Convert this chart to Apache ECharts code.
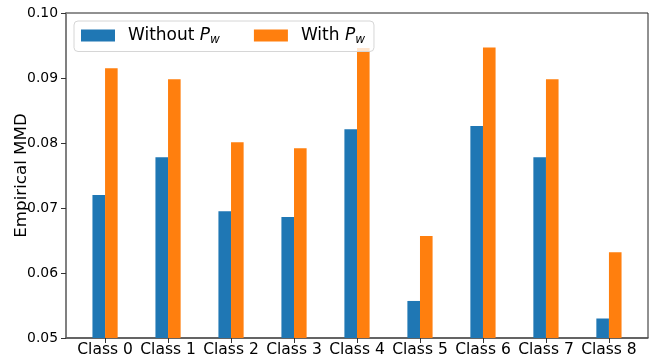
<!DOCTYPE html>
<html>
<head>
<meta charset="utf-8">
<script src="https://cdn.jsdelivr.net/npm/echarts@6/dist/echarts.min.js"></script>
<style>
html,body{margin:0;padding:0;background:#fff;}
#chart{width:654px;height:358px;}
</style>
</head>
<body>
<div id="chart"></div>
<script>
const categories = ['Class 0','Class 1','Class 2','Class 3','Class 4','Class 5','Class 6','Class 7','Class 8'];
const withoutPw = [0.0720, 0.0778, 0.0695, 0.0686, 0.0821, 0.0557, 0.0826, 0.0778, 0.0530];
const withPw    = [0.0915, 0.0898, 0.0801, 0.0792, 0.0946, 0.0657, 0.0947, 0.0898, 0.0632];
const seriesNames = ['Without', 'With'];
const yTicks = [0.05, 0.06, 0.07, 0.08, 0.09, 0.10];

const FONT = 'DejaVu Sans';
const BAR_W = 0.2;

function makeRender(offset){
  return function(params, api){
    const x = api.value(0) + offset;
    const y = api.value(1);
    const top = api.coord([x - BAR_W/2, y]);
    const bot = api.coord([x + BAR_W/2, 0.05]);
    return {
      type: 'rect',
      shape: {x: top[0], y: top[1], width: bot[0]-top[0], height: bot[1]-top[1]},
      style: {fill: api.visual('color')}
    };
  };
}

const chart = echarts.init(document.getElementById('chart'), null, {renderer:'canvas'});
chart.setOption({
  animation: false,
  backgroundColor: '#fff',
  grid: {left: 66, right: 6, top: 13, bottom: 20, containLabel: false, outerBoundsMode: 'none',
         show: true, borderColor: '#222', borderWidth: 1, backgroundColor: 'transparent'},
  legend: {
    left: 74, top: 21,
    padding: [6, 9, 6, 7],
    itemWidth: 34, itemHeight: 12, itemGap: 34,
    icon: 'rect',
    backgroundColor: 'rgba(255,255,255,0.8)',
    borderColor: '#d6d6d6', borderWidth: 1, borderRadius: 4,
    data: seriesNames,
    formatter: n => `{n|${n} }{i|P}{s|w}`,
    textStyle: {
      fontFamily: FONT, fontSize: 17, color: '#000',
      rich: {
        n: {fontFamily: FONT, fontSize: 17, color: '#000', padding: [0,0,0,8]},
        i: {fontFamily: FONT, fontSize: 17, fontStyle: 'italic', color: '#000'},
        s: {fontFamily: FONT, fontSize: 12, fontStyle: 'italic', color: '#000', padding: [8,0,0,0]}
      }
    }
  },
  xAxis: {
    type: 'value', min: -0.62, max: 8.62,
    splitLine: {show: false},
    axisLine: {show: true, onZero: false, lineStyle: {color: '#555', width: 1.5}},
    axisTick: {show: true, length: 5, customValues: categories.map((c,i)=>i), lineStyle: {color: '#333'}},
    axisLabel: {
      customValues: categories.map((c,i)=>i),
      formatter: v => categories[Math.round(v)],
      fontFamily: FONT, fontSize: 15.5, color: '#000', margin: 4
    }
  },
  yAxis: {
    type: 'value', min: 0.05, max: 0.10, interval: 0.01,
    name: 'Empirical MMD', nameLocation: 'middle', nameGap: 36, nameMoveOverlap: false,
    nameTextStyle: {fontFamily: FONT, fontSize: 16.7, color: '#000'},
    splitLine: {show: false},
    axisLine: {show: true, onZero: false, lineStyle: {color: '#808080', width: 2}},
    axisTick: {show: true, length: 5, lineStyle: {color: '#333'}},
    axisLabel: {
      customValues: yTicks,
      formatter: v => v.toFixed(2),
      fontFamily: FONT, fontSize: 13.9, color: '#000', margin: 8
    }
  },
  series: [
    {
      name: seriesNames[0], type: 'custom', z: 2,
      itemStyle: {color: '#1f77b4'},
      encode: {x: 0, y: 1},
      data: withoutPw.map((v,i)=>[i, v]),
      renderItem: makeRender(-BAR_W/2)
    },
    {
      name: seriesNames[1], type: 'custom', z: 2,
      itemStyle: {color: '#ff7f0e'},
      encode: {x: 0, y: 1},
      data: withPw.map((v,i)=>[i, v]),
      renderItem: makeRender(BAR_W/2)
    }
  ]
});
</script>
</body>
</html>
